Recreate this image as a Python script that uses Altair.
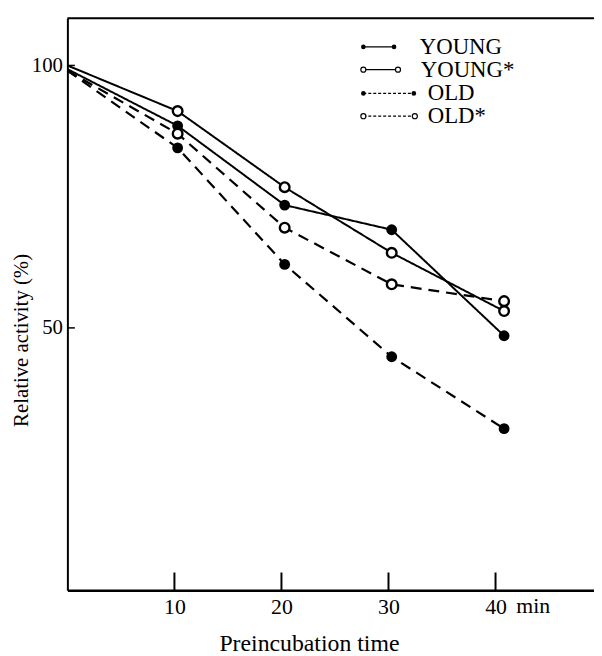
import altair as alt
import pandas as pd

# ---- data ----
times = [0, 10.3, 20.3, 30.3, 40.8]
series_names = ["YOUNG", "YOUNG*", "OLD", "OLD*"]
young = [99.3, 88.5, 73.4, 68.7, 48.5]
young_star = [100, 91.3, 76.8, 64.3, 53.2]
old = [99, 84.3, 62.1, 44.5, 30.8]
old_star = [99, 87.0, 69.1, 58.3, 55.1]
x_ticks = [10, 20, 30, 40]
y_ticks = [50, 100]
x_unit = ["min"]

values = {"YOUNG": young, "YOUNG*": young_star, "OLD": old, "OLD*": old_star}
filled = {"YOUNG": True, "YOUNG*": False, "OLD": True, "OLD*": False}
dashed = {"YOUNG": False, "YOUNG*": False, "OLD": True, "OLD*": True}

rows = []
for name in series_names:
    for t, v in zip(times, values[name]):
        rows.append({"series": name, "time": t, "activity": v})
df = pd.DataFrame(rows)

FONT = "Liberation Serif"
xs = alt.Scale(domain=[0, 49.2], nice=False, zero=False)
ys = alt.Scale(domain=[0, 109], nice=False, zero=False)

x_axis = alt.Axis(values=x_ticks, tickSize=0, grid=False, domainColor="black",
                  domainWidth=2.5, labelFont=FONT, labelFontSize=22, labelColor="black",
                  labelPadding=6, title="Preincubation time", titleFont=FONT,
                  titleFontSize=24, titleFontWeight="normal", titleColor="black",
                  titleX=244, titleY=61, titleBaseline="alphabetic", titleAlign="center")
y_axis = alt.Axis(values=y_ticks, tickSize=0, grid=False, domainColor="black",
                  domainWidth=2, labelFont=FONT, labelFontSize=21, labelColor="black",
                  labelPadding=5, title="Relative activity (%)", titleFont=FONT,
                  titleFontSize=21, titleFontWeight="normal", titleColor="black",
                  titleX=-36, titleY=325, titleBaseline="bottom", titleAlign="center")


def X(field):
    return alt.X(field, scale=xs, axis=x_axis, title="Preincubation time")


def Y(field):
    return alt.Y(field, scale=ys, axis=y_axis, title="Relative activity (%)")


layers = []
for name in series_names:
    sub = alt.Chart(df).transform_filter(alt.datum.series == name)
    line = sub.mark_line(color="black", strokeWidth=2.2 if dashed[name] else 2,
                         strokeDash=[11, 7] if dashed[name] else [1, 0]).encode(
        x=X("time:Q"), y=Y("activity:Q"))
    layers.append(line)

for name in series_names:
    sub = alt.Chart(df).transform_filter((alt.datum.series == name) & (alt.datum.time > 0))
    if filled[name]:
        pts = sub.mark_point(shape="circle", filled=True, color="black", size=120, opacity=1)
    else:
        pts = sub.mark_point(shape="circle", filled=True, fill="white", stroke="black",
                             strokeWidth=2.4, size=95, opacity=1)
    layers.append(pts.encode(x=X("time:Q"), y=Y("activity:Q")))

# frame top line
top_df = pd.DataFrame({"top": [109]})
layers.append(alt.Chart(top_df).mark_rule(color="black", strokeWidth=2).encode(
    y=Y("top:Q")))

# inward ticks on the x axis
xt_df = pd.DataFrame({"t": x_ticks, "y0": [0] * len(x_ticks), "y1": [3.4] * len(x_ticks)})
layers.append(alt.Chart(xt_df).mark_rule(color="black", strokeWidth=2).encode(
    x=X("t:Q"), y=Y("y0:Q"), y2="y1:Q"))

# small tick on the y axis
yt_df = pd.DataFrame({"t": y_ticks, "x0": [0] * len(y_ticks), "x1": [0.7] * len(y_ticks)})
layers.append(alt.Chart(yt_df).mark_rule(color="black", strokeWidth=1.5).encode(
    y=Y("t:Q"), x=X("x0:Q"), x2="x1:Q"))

# "min" unit after the last tick label
unit_df = pd.DataFrame({"t": [x_ticks[-1]], "y0": [0], "u": x_unit})
layers.append(alt.Chart(unit_df).mark_text(font=FONT, fontSize=22, color="black",
                                           align="left", baseline="top", dx=21, dy=6).encode(
    x=X("t:Q"), y=Y("y0:Q"), text="u:N"))

# legend (drawn by hand)
leg_df = pd.DataFrame({"series": series_names})
leg_y = [29, 52, 76, 99]
leg_x2 = [330, 334, 350, 351]
leg_tx = [356, 357, 364, 364]
for i, name in enumerate(series_names):
    ld = alt.Chart(leg_df).transform_filter(alt.datum.series == name)
    layers.append(ld.mark_rule(color="black", strokeWidth=1.2,
                               strokeDash=[3, 2] if dashed[name] else [1, 0]).encode(
        x=alt.value(299), x2=alt.value(leg_x2[i]), y=alt.value(leg_y[i])))
    for xp in (299, leg_x2[i]):
        if filled[name]:
            m = ld.mark_point(shape="circle", filled=True, color="black", size=22, opacity=1)
        else:
            m = ld.mark_point(shape="circle", filled=True, fill="white", stroke="black",
                              strokeWidth=1.2, size=26, opacity=1)
        layers.append(m.encode(x=alt.value(xp), y=alt.value(leg_y[i])))
    layers.append(ld.mark_text(font=FONT, fontSize=23, color="black", align="left",
                               baseline="middle").encode(
        x=alt.value(leg_tx[i]), y=alt.value(leg_y[i]), text="series:N"))

chart = alt.layer(*layers).properties(
    width=532, height=578,
    padding={"left": 60, "top": 7, "right": 0, "bottom": 63},
    autosize=alt.AutoSizeParams(type="none"),
).configure_view(stroke=None)

chart.save("out.html", embed_options={"renderer": "svg", "actions": False})
